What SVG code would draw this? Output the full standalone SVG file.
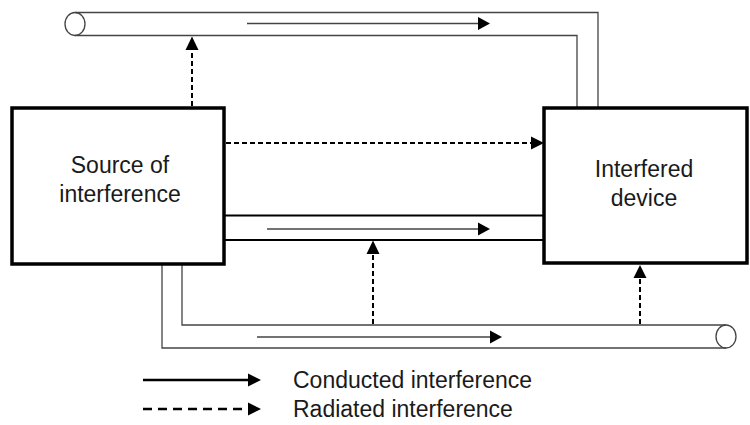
<svg xmlns="http://www.w3.org/2000/svg" width="750" height="425" viewBox="0 0 750 425">
<style>
  .box { fill: #fff; stroke: #000; stroke-width: 3.5; }
  .lbl { font-family: "Liberation Sans", Arial, sans-serif; font-size: 23px; fill: #1a1a1a; text-anchor: middle; }
  .leg { font-family: "Liberation Sans", Arial, sans-serif; font-size: 23px; fill: #1a1a1a; }
  .cable { fill: none; stroke: #444; stroke-width: 1.3; }
  .cableb { fill: none; stroke: #000; stroke-width: 2; }
  .flow { fill: none; stroke: #444; stroke-width: 1.6; }
  .rad { fill: none; stroke: #000; stroke-width: 2; stroke-dasharray: 5 3; }
  .head { fill: #000; }
</style>
<g id="connectors">
  <!-- top cable -->
  <path class="cable" d="M75,12.5 H598 V107"/>
  <path class="cable" d="M75,35.5 H577 V107"/>
  <ellipse class="cable" cx="75" cy="24" rx="10" ry="11.5" fill="#fff"/>
  <line class="flow" x1="247" y1="23.5" x2="479" y2="23.5"/>
  <polygon class="head" points="478,17 490,23.5 478,30"/>
  <!-- radiated to top cable -->
  <line class="rad" x1="192" y1="106" x2="192" y2="49"/>
  <polygon class="head" points="185.5,50 198.5,50 192,36.5"/>
  <!-- direct radiated -->
  <line class="rad" x1="226" y1="143" x2="532" y2="143"/>
  <polygon class="head" points="531,136.5 544,143 531,149.5"/>
  <!-- middle cable -->
  <line class="cableb" x1="224" y1="215.5" x2="544" y2="215.5"/>
  <line class="cableb" x1="224" y1="240" x2="544" y2="240"/>
  <line class="flow" x1="267" y1="229" x2="479" y2="229"/>
  <polygon class="head" points="478,222.5 490,229 478,235.5"/>
  <!-- bottom cable -->
  <path class="cable" d="M182,264 V325 H726"/>
  <path class="cable" d="M162,264 V348 H726"/>
  <ellipse class="cable" cx="726" cy="336.5" rx="10" ry="11.5" fill="#fff"/>
  <line class="flow" x1="257" y1="337" x2="491" y2="337"/>
  <polygon class="head" points="490,330.5 502,337 490,343.5"/>
  <!-- radiated from bottom cable to middle cable -->
  <line class="rad" x1="373" y1="324" x2="373" y2="253"/>
  <polygon class="head" points="366.5,254 379.5,254 373,240.5"/>
  <!-- radiated from bottom cable to device -->
  <line class="rad" x1="640" y1="324" x2="640" y2="277"/>
  <polygon class="head" points="633.5,278 646.5,278 640,265"/>
</g>
<g id="source">
  <rect class="box" x="12" y="108" width="212" height="156"/>
  <text class="lbl" x="120" y="173">Source of</text>
  <text class="lbl" x="120" y="202">interference</text>
</g>
<g id="device">
  <rect class="box" x="544" y="108" width="203" height="155"/>
  <text class="lbl" x="644" y="177">Interfered</text>
  <text class="lbl" x="644" y="206">device</text>
</g>
<g id="legend">
  <line x1="143" y1="380" x2="249" y2="380" stroke="#000" stroke-width="2.5"/>
  <polygon class="head" points="248,373.5 261,380 248,386.5"/>
  <line x1="143" y1="409" x2="249" y2="409" stroke="#000" stroke-width="2.5" stroke-dasharray="9 6"/>
  <polygon class="head" points="248,402.5 261,409 248,415.5"/>
  <text class="leg" x="293" y="388">Conducted interference</text>
  <text class="leg" x="293" y="417">Radiated interference</text>
</g>
</svg>
